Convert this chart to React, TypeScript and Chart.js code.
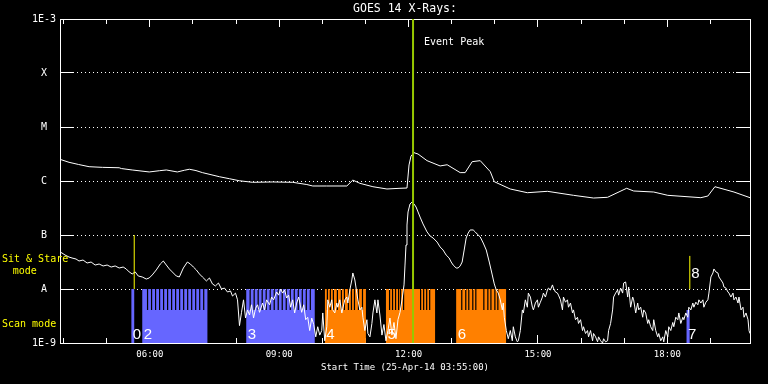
import React, { useEffect, useRef } from 'react';
import { Chart, registerables } from 'chart.js';

Chart.register(...registerables);

// ---- Data (times in decimal hours UT, 25-Apr-2014; flux in W/m^2) ----
const xStart = 3.9167; // 03:55
const xEnd = 19.9167; // 19:55

// GOES 14 long channel (upper curve)
const longTimes = [3.917, 4.126, 4.35, 4.591, 4.9, 5.289, 5.34, 5.591, 5.986, 6.22, 6.382, 6.638, 6.8, 6.917, 7.07, 7.219, 7.614, 7.85, 8.079, 8.382, 8.85, 9.312, 9.64, 9.777, 10.1, 10.568, 10.707, 10.870, 11.173, 11.498, 11.801, 11.963, 12.010, 12.056, 12.126, 12.219, 12.428, 12.731, 12.894, 13.196, 13.312, 13.475, 13.661, 13.894, 13.987, 14.358, 14.754, 15.219, 15.824, 16.289, 16.614, 17.056, 17.219, 17.684, 18.010, 18.777, 18.940, 19.103, 19.545, 19.917];
const longFlux = [2.52e-6, 2.22e-6, 2.02e-6, 1.84e-6, 1.79e-6, 1.76e-6, 1.70e-6, 1.60e-6, 1.47e-6, 1.55e-6, 1.60e-6, 1.47e-6, 1.58e-6, 1.65e-6, 1.56e-6, 1.43e-6, 1.20e-6, 1.10e-6, 1.01e-6, 9.46e-7, 9.6e-7, 9.46e-7, 8.6e-7, 8.08e-7, 8.08e-7, 8.08e-7, 1.04e-6, 9.06e-7, 7.84e-7, 7.11e-7, 7.33e-7, 7.41e-7, 1.98e-6, 2.90e-6, 3.34e-6, 3.16e-6, 2.38e-6, 1.90e-6, 2.00e-6, 1.43e-6, 1.43e-6, 2.28e-6, 2.38e-6, 1.49e-6, 9.7e-7, 7.11e-7, 6.07e-7, 6.44e-7, 5.43e-7, 4.84e-7, 4.99e-7, 7.33e-7, 6.53e-7, 6.25e-7, 5.43e-7, 4.91e-7, 5.27e-7, 7.84e-7, 6.25e-7, 4.91e-7];

// GOES 14 short channel (lower curve)
const shortTimes = [3.917, 3.963, 4.033, 4.126, 4.196, 4.289, 4.358, 4.451, 4.545, 4.638, 4.731, 4.824, 4.917, 5.010, 5.103, 5.196, 5.289, 5.382, 5.452, 5.521, 5.591, 5.661, 5.731, 5.824, 5.917, 5.986, 6.056, 6.149, 6.242, 6.312, 6.382, 6.452, 6.521, 6.614, 6.684, 6.777, 6.870, 6.940, 7.010, 7.079, 7.149, 7.219, 7.312, 7.382, 7.452, 7.521, 7.591, 7.661, 7.731, 7.800, 7.870, 7.917, 7.986, 8.033, 8.079, 8.126, 8.172, 8.219, 8.265, 8.312, 8.358, 8.405, 8.452, 8.498, 8.544, 8.614, 8.661, 8.707, 8.777, 8.824, 8.870, 8.940, 8.986, 9.033, 9.079, 9.126, 9.172, 9.219, 9.265, 9.312, 9.358, 9.405, 9.452, 9.521, 9.568, 9.614, 9.661, 9.707, 9.754, 9.800, 9.847, 9.893, 9.940, 9.986, 10.010, 10.056, 10.103, 10.126, 10.172, 10.219, 10.242, 10.289, 10.335, 10.358, 10.405, 10.452, 10.475, 10.521, 10.568, 10.591, 10.638, 10.684, 10.707, 10.754, 10.800, 10.824, 10.870, 10.917, 10.940, 10.986, 11.033, 11.056, 11.103, 11.149, 11.173, 11.219, 11.265, 11.289, 11.335, 11.382, 11.428, 11.475, 11.521, 11.568, 11.614, 11.661, 11.707, 11.754, 11.801, 11.847, 11.894, 11.917, 11.940, 11.963, 11.987, 12.033, 12.080, 12.126, 12.173, 12.219, 12.266, 12.335, 12.428, 12.498, 12.568, 12.661, 12.731, 12.800, 12.870, 12.940, 12.987, 13.033, 13.103, 13.149, 13.196, 13.242, 13.289, 13.335, 13.382, 13.428, 13.498, 13.545, 13.591, 13.661, 13.731, 13.801, 13.871, 13.940, 13.987, 14.033, 14.080, 14.126, 14.173, 14.196, 14.219, 14.266, 14.312, 14.359, 14.405, 14.428, 14.475, 14.522, 14.545, 14.591, 14.638, 14.661, 14.708, 14.754, 14.777, 14.824, 14.871, 14.894, 14.940, 14.987, 15.010, 15.056, 15.103, 15.126, 15.173, 15.219, 15.243, 15.289, 15.336, 15.359, 15.405, 15.452, 15.475, 15.522, 15.568, 15.591, 15.638, 15.684, 15.708, 15.754, 15.801, 15.824, 15.870, 15.917, 15.940, 15.987, 16.033, 16.056, 16.103, 16.149, 16.173, 16.219, 16.266, 16.289, 16.336, 16.382, 16.405, 16.452, 16.498, 16.522, 16.568, 16.614, 16.638, 16.684, 16.731, 16.754, 16.801, 16.847, 16.870, 16.917, 16.963, 16.987, 17.033, 17.080, 17.103, 17.149, 17.196, 17.219, 17.266, 17.312, 17.336, 17.382, 17.429, 17.452, 17.498, 17.545, 17.568, 17.614, 17.661, 17.684, 17.731, 17.777, 17.801, 17.847, 17.894, 17.917, 17.963, 18.010, 18.033, 18.080, 18.126, 18.150, 18.196, 18.243, 18.266, 18.312, 18.359, 18.382, 18.429, 18.475, 18.498, 18.545, 18.591, 18.615, 18.661, 18.708, 18.731, 18.777, 18.824, 18.847, 18.894, 18.940, 18.964, 19.010, 19.057, 19.080, 19.126, 19.173, 19.196, 19.243, 19.289, 19.312, 19.359, 19.405, 19.429, 19.475, 19.522, 19.545, 19.591, 19.638, 19.661, 19.708, 19.754, 19.778, 19.824, 19.871, 19.894, 19.917];
const shortFlux = [4.84e-8, 4.64e-8, 4.26e-8, 3.91e-8, 3.75e-8, 3.59e-8, 3.30e-8, 3.44e-8, 3.03e-8, 3.16e-8, 2.78e-8, 2.90e-8, 2.67e-8, 2.78e-8, 2.55e-8, 2.67e-8, 2.45e-8, 2.55e-8, 2.35e-8, 2.07e-8, 1.90e-8, 2.07e-8, 1.74e-8, 1.67e-8, 1.53e-8, 1.60e-8, 1.82e-8, 2.25e-8, 2.90e-8, 3.30e-8, 2.78e-8, 2.35e-8, 2.07e-8, 1.74e-8, 1.67e-8, 2.45e-8, 3.16e-8, 2.90e-8, 2.55e-8, 2.25e-8, 1.90e-8, 1.67e-8, 1.41e-8, 1.60e-8, 1.24e-8, 1.14e-8, 1.29e-8, 1.0e-8, 1.04e-8, 8.8e-9, 9.2e-9, 7.4e-9, 8.4e-9, 6.3e-9, 2.1e-9, 3.7e-9, 6.3e-9, 2.9e-9, 4.1e-9, 3.3e-9, 5.1e-9, 2.9e-9, 4.4e-9, 5.1e-9, 3.7e-9, 5.5e-9, 4.1e-9, 6.3e-9, 5.1e-9, 7.1e-9, 6.3e-9, 8.8e-9, 7.7e-9, 1.0e-8, 8.4e-9, 9.6e-9, 6.8e-9, 7.7e-9, 4.6e-9, 6.3e-9, 3.6e-9, 5.5e-9, 7.1e-9, 3.7e-9, 5.1e-9, 2.7e-9, 3.0e-9, 1.7e-9, 2.9e-9, 2.2e-9, 1.3e-9, 2.0e-9, 1.4e-9, 1.7e-9, 3.6e-9, 1.1e-9, 2.0e-9, 6.3e-9, 4.6e-9, 6.3e-9, 4.1e-9, 3.6e-9, 5.5e-9, 4.6e-9, 6.3e-9, 3.6e-9, 4.4e-9, 6.3e-9, 7.1e-9, 5.5e-9, 9.6e-9, 1.47e-8, 1.98e-8, 1.47e-8, 8.4e-9, 6.3e-9, 4.1e-9, 4.6e-9, 3.0e-9, 1.7e-9, 2.7e-9, 1.5e-9, 1.3e-9, 2.3e-9, 3.6e-9, 6.3e-9, 3.6e-9, 6.3e-9, 3.3e-9, 1.4e-9, 2.2e-9, 1.1e-9, 1.7e-9, 2.9e-9, 1.4e-9, 2.4e-9, 1.2e-9, 2.7e-9, 3.7e-9, 6.3e-9, 1.19e-8, 2.78e-8, 6.53e-8, 1.53e-7, 2.67e-7, 3.75e-7, 4.08e-7, 3.75e-7, 3.30e-7, 2.67e-7, 2.15e-7, 1.60e-7, 1.14e-7, 9.6e-8, 8.8e-8, 7.4e-8, 6.0e-8, 5.27e-8, 4.26e-8, 3.75e-8, 3.16e-8, 2.78e-8, 2.45e-8, 2.45e-8, 2.67e-8, 3.16e-8, 5.27e-8, 8.8e-8, 1.09e-7, 1.24e-7, 1.24e-7, 1.14e-7, 1.04e-7, 9.2e-8, 7.1e-8, 5.27e-8, 3.16e-8, 1.82e-8, 1.24e-8, 9.6e-9, 8.4e-9, 6.3e-9, 4.1e-9, 5.5e-9, 3.0e-9, 1.7e-9, 1.2e-9, 1.7e-9, 1.1e-9, 2.0e-9, 1.3e-9, 1.05e-9, 1.1e-9, 1.7e-9, 4.1e-9, 3.6e-9, 6.3e-9, 4.6e-9, 8.4e-9, 7.1e-9, 4.6e-9, 4.1e-9, 5.5e-9, 6.3e-9, 4.6e-9, 5.7e-9, 7.1e-9, 8.4e-9, 7.1e-9, 9.6e-9, 1.04e-8, 9.6e-9, 1.19e-8, 1.04e-8, 8.8e-9, 8.4e-9, 7.7e-9, 6.3e-9, 4.1e-9, 7.1e-9, 5.7e-9, 6.3e-9, 4.6e-9, 5.5e-9, 3.6e-9, 4.1e-9, 2.7e-9, 3.0e-9, 2.3e-9, 2.7e-9, 1.7e-9, 2.0e-9, 1.5e-9, 1.7e-9, 1.3e-9, 1.7e-9, 1.1e-9, 1.5e-9, 1.3e-9, 1.05e-9, 1.3e-9, 1.1e-9, 1.0e-9, 1.2e-9, 1.05e-9, 1.1e-9, 1.7e-9, 2.3e-9, 4.1e-9, 7.1e-9, 8.4e-9, 9.6e-9, 7.7e-9, 1.04e-8, 8.4e-9, 1.29e-8, 1.35e-8, 7.1e-9, 1.09e-8, 4.6e-9, 7.1e-9, 6.3e-9, 3.6e-9, 5.5e-9, 4.1e-9, 4.6e-9, 3.0e-9, 4.1e-9, 3.6e-9, 2.3e-9, 2.7e-9, 2.0e-9, 1.7e-9, 2.7e-9, 1.7e-9, 1.3e-9, 1.5e-9, 1.1e-9, 1.3e-9, 1.05e-9, 1.7e-9, 1.3e-9, 2.0e-9, 1.7e-9, 2.4e-9, 2.0e-9, 3.0e-9, 2.7e-9, 3.6e-9, 2.3e-9, 3.0e-9, 2.7e-9, 3.6e-9, 3.0e-9, 4.6e-9, 4.1e-9, 5.5e-9, 4.6e-9, 5.7e-9, 5.1e-9, 6.3e-9, 5.5e-9, 6.3e-9, 4.6e-9, 5.7e-9, 6.3e-9, 8.4e-9, 1.67e-8, 1.98e-8, 2.35e-8, 2.07e-8, 1.98e-8, 1.67e-8, 1.47e-8, 1.29e-8, 1.09e-8, 1.04e-8, 8.8e-9, 8.4e-9, 7.1e-9, 8.4e-9, 6.3e-9, 7.1e-9, 5.5e-9, 7.1e-9, 4.1e-9, 4.6e-9, 3.0e-9, 3.6e-9, 2.7e-9, 1.7e-9, 1.5e-9];

// Axis ticks and labels
const decadeValues = [1e-9, 1e-8, 1e-7, 1e-6, 1e-5, 1e-4, 1e-3];
const yTickLabels = ['1E-9', 'A', 'B', 'C', 'M', 'X', '1E-3'];
const hourTicks = [4, 5, 6, 7, 8, 9, 10, 11, 12, 13, 14, 15, 16, 17, 18, 19];
const majorHours = [6, 9, 12, 15, 18];
const majorLabels = ['06:00', '09:00', '12:00', '15:00', '18:00'];

// Scan-mode observation blocks
const scanLabels = ['0', '2', '3', '4', '5', '6', '7'];
const scanKind = ['blue', 'blue', 'blue', 'orange', 'orange', 'orange', 'blue'];
const scanStart = [5.568, 5.824, 8.235, 10.056, 11.475, 13.103, 18.445];
const scanEnd = [5.638, 7.335, 9.824, 11.010, 12.614, 14.265, 18.521];
const scanBase = [1e-8, 4.1e-9, 4.1e-9, 4.1e-9, 4.1e-9, 4.1e-9, 4.1e-9];
const scanTop = [1e-8, 1e-8, 1e-8, 1e-8, 1e-8, 1e-8, 4.1e-9];
const gaps0: number[] = [];
const gaps2 = [5.933, 6.026, 6.119, 6.212, 6.305, 6.398, 6.491, 6.584, 6.677, 6.770, 6.863, 6.956, 7.049, 7.142, 7.235];
const gaps3 = [8.312, 8.405, 8.498, 8.591, 8.684, 8.777, 8.870, 8.963, 9.056, 9.149, 9.242, 9.335, 9.428, 9.521, 9.614, 9.707];
const gaps4 = [10.103, 10.172, 10.242, 10.335, 10.428, 10.498, 10.591, 10.661, 10.731, 10.824, 10.917];
const gaps5 = [11.545, 11.614, 11.684, 11.754, 11.800, 11.870, 12.265, 12.335, 12.405, 12.475];
const gaps6 = [13.219, 13.312, 13.382, 13.475, 13.545, 13.731, 13.824, 13.895, 13.987, 14.056];
const gaps7: number[] = [];
const scanGaps = [gaps0, gaps2, gaps3, gaps4, gaps5, gaps6, gaps7];

// Sit & Stare observations
const sitStareTimes = [5.638, 18.521];
const sitStareLow = [1e-8, 1e-8];
const sitStareHigh = [1e-7, 4.1e-8];
const sitStareLabels = ['', '8'];

// Event peak
const eventPeakTime = 12.103;

// ---- Styles ----
const FONT = "'DejaVu Sans Mono', monospace";
const DIGIT_FONT = "'Liberation Sans', sans-serif";
const BLUE = 'rgb(102,102,255)';
const ORANGE = 'rgb(255,128,0)';
const GREEN = 'rgb(150,200,0)';
const YELLOW = '#ffff00';
const GAP_WIDTH = 0.028;
const FLOOR = 1e-9;

function buildScanData(kind: string) {
  const pts: { x: number; y: number }[] = [];
  for (let i = 0; i < scanStart.length; i++) {
    if (scanKind[i] !== kind) continue;
    pts.push({ x: scanStart[i], y: scanTop[i] });
    for (const g of scanGaps[i]) {
      pts.push({ x: g, y: scanBase[i] });
      pts.push({ x: g + GAP_WIDTH, y: scanTop[i] });
    }
    pts.push({ x: scanEnd[i], y: FLOOR });
  }
  return pts;
}

function buildSitStare() {
  const pts: { x: number; y: number | null }[] = [];
  sitStareTimes.forEach((t, i) => {
    if (i > 0) pts.push({ x: (sitStareTimes[i - 1] + t) / 2, y: null });
    pts.push({ x: t, y: sitStareLow[i] });
    pts.push({ x: t, y: sitStareHigh[i] });
  });
  return pts;
}

const zeroPadding = (s: any) => {
  s.paddingTop = 0;
  s.paddingBottom = 0;
  s.paddingLeft = 0;
  s.paddingRight = 0;
};

const textPlugin = {
  id: 'goesText',
  afterDatasetsDraw(chart: any) {
    const { ctx } = chart;
    const x = chart.scales.x;
    const y = chart.scales.y;
    ctx.save();
    ctx.fillStyle = '#ffffff';
    ctx.font = `15px ${DIGIT_FONT}`;
    ctx.textAlign = 'left';
    ctx.textBaseline = 'alphabetic';
    scanLabels.forEach((lab, i) => {
      ctx.fillText(lab, x.getPixelForValue(scanStart[i]) + 1.5, y.getPixelForValue(FLOOR) - 4);
    });
    sitStareLabels.forEach((lab, i) => {
      if (lab) ctx.fillText(lab, x.getPixelForValue(sitStareTimes[i]) + 1.5, y.getPixelForValue(sitStareLow[i]) - 11);
    });
    ctx.restore();
  },
  afterDraw(chart: any) {
    const { ctx } = chart;
    const x = chart.scales.x;
    const y = chart.scales.y;
    ctx.save();
    ctx.textAlign = 'left';
    ctx.textBaseline = 'middle';
    ctx.font = `10px ${FONT}`;
    ctx.fillStyle = '#ffffff';
    ctx.fillText('Event Peak', x.getPixelForValue(eventPeakTime) + 11, y.getPixelForValue(1e-3) + 23.5);
    ctx.fillStyle = YELLOW;
    ctx.fillText('Sit & Stare', 2, y.getPixelForValue(1e-7) + 24.5);
    ctx.fillText('mode', 12.7, y.getPixelForValue(1e-7) + 36.7);
    ctx.fillText('Scan mode', 2, y.getPixelForValue(1e-9) - 19);
    ctx.restore();
  },
};

export default function App() {
  const ref = useRef<HTMLCanvasElement>(null);

  useEffect(() => {
    document.body.style.margin = '0';
    document.body.style.background = '#000';
    const canvas = ref.current;
    if (!canvas) return;

    const hourAxis = (ticks: number[], pos: string, len: number, border: boolean, weight: number) => ({
      type: 'linear',
      position: pos,
      min: xStart,
      max: xEnd,
      weight,
      afterBuildTicks: (s: any) => {
        s.ticks = ticks.map((v) => ({ value: v }));
      },
      grid: { display: true, drawOnChartArea: false, drawTicks: true, tickLength: len, tickColor: '#ffffff', tickWidth: 1 },
      border: { display: border, color: '#ffffff', width: 1 },
      ticks: { display: false },
      afterFit: (s: any) => {
        s.height = 0;
        zeroPadding(s);
      },
    });

    const yLabel = (v: number) => {
      const i = decadeValues.findIndex((d) => Math.abs(Math.log10(d) - Math.log10(v)) < 1e-6);
      return i >= 0 ? yTickLabels[i] : '';
    };

    const chart = new Chart(canvas, {
      type: 'line',
      data: {
        datasets: [
          {
            label: 'Scan mode (A)',
            data: buildScanData('blue'),
            stepped: true,
            fill: 'start',
            backgroundColor: BLUE,
            borderColor: 'rgba(0,0,0,0)',
            borderWidth: 0,
            pointRadius: 0,
            order: 5,
          },
          {
            label: 'Scan mode (B)',
            data: buildScanData('orange'),
            stepped: true,
            fill: 'start',
            backgroundColor: ORANGE,
            borderColor: 'rgba(0,0,0,0)',
            borderWidth: 0,
            pointRadius: 0,
            order: 5,
          },
          {
            label: 'GOES 14 1.0-8.0 A',
            data: longTimes.map((t, i) => ({ x: t, y: longFlux[i] })),
            borderColor: '#ffffff',
            borderWidth: 1,
            pointRadius: 0,
            fill: false,
            order: 2,
          },
          {
            label: 'GOES 14 0.5-4.0 A',
            data: shortTimes.map((t, i) => ({ x: t, y: shortFlux[i] })),
            borderColor: '#ffffff',
            borderWidth: 1,
            pointRadius: 0,
            fill: false,
            order: 2,
          },
          {
            label: 'Sit & Stare',
            data: buildSitStare(),
            borderColor: YELLOW,
            borderWidth: 1,
            pointRadius: 0,
            spanGaps: false,
            fill: false,
            order: 1,
          },
          {
            label: 'Event Peak',
            data: [
              { x: eventPeakTime, y: decadeValues[0] },
              { x: eventPeakTime, y: decadeValues[decadeValues.length - 1] },
            ],
            borderColor: GREEN,
            borderWidth: 2,
            pointRadius: 0,
            fill: false,
            order: 0,
          },
        ] as any,
      },
      options: {
        responsive: false,
        animation: false,
        devicePixelRatio: 1,
        events: [],
        layout: { padding: { left: 0, right: 18, top: 0, bottom: 0 } },
        elements: { point: { radius: 0 }, line: { tension: 0 } },
        plugins: {
          legend: { display: false },
          tooltip: { enabled: false },
          title: {
            display: true,
            text: 'GOES 14 X-Rays:',
            color: '#ffffff',
            fullSize: false,
            font: { family: FONT, size: 11.5, weight: 'normal' },
            padding: { top: 2.1, bottom: 3.1 },
          },
        },
        scales: {
          x: {
            type: 'linear',
            position: 'bottom',
            min: xStart,
            max: xEnd,
            weight: 0,
            afterBuildTicks: (s: any) => {
              s.ticks = hourTicks.map((v) => ({ value: v }));
            },
            afterFit: (s: any) => {
              s.height = 41;
              zeroPadding(s);
            },
            grid: { display: true, drawOnChartArea: false, drawTicks: true, tickLength: -5, tickColor: '#ffffff', tickWidth: 1 },
            border: { display: true, color: '#ffffff', width: 1 },
            ticks: {
              autoSkip: false,
              maxRotation: 0,
              color: '#ffffff',
              font: { family: FONT, size: 9 },
              padding: 11.6,
              callback: (v: any) => {
                const i = majorHours.indexOf(Number(v));
                return i >= 0 ? majorLabels[i] : '';
              },
            },
            title: {
              display: true,
              text: 'Start Time (25-Apr-14 03:55:00)',
              color: '#ffffff',
              font: { family: FONT, size: 9 },
              padding: { top: 0, bottom: 11.1 },
            },
          },
          xMajor: hourAxis(majorHours, 'bottom', -8, false, -1),
          xTop: hourAxis(hourTicks, 'top', -5, true, 0),
          xTopMajor: hourAxis(majorHours, 'top', -8, false, -1),
          y: {
            type: 'logarithmic',
            position: 'left',
            min: decadeValues[0],
            max: decadeValues[decadeValues.length - 1],
            afterBuildTicks: (s: any) => {
              s.ticks = decadeValues.map((v) => ({ value: v }));
            },
            afterFit: (s: any) => {
              s.width = 60;
              zeroPadding(s);
            },
            grid: {
              display: true,
              drawOnChartArea: true,
              color: '#ffffff',
              lineWidth: 1,
              drawTicks: true,
              tickLength: -14,
              tickColor: '#ffffff',
              tickWidth: 1,
              tickBorderDash: [],
            },
            border: { display: true, color: '#ffffff', width: 1, dash: [1, 3] },
            ticks: {
              autoSkip: false,
              color: '#ffffff',
              font: { family: FONT, size: 10 },
              padding: 18,
              crossAlign: 'center',
              callback: (v: any) => yLabel(Number(v)),
            },
          },
          yRight: {
            type: 'logarithmic',
            position: 'right',
            min: decadeValues[0],
            max: decadeValues[decadeValues.length - 1],
            afterBuildTicks: (s: any) => {
              s.ticks = decadeValues.map((v) => ({ value: v }));
            },
            afterFit: (s: any) => {
              s.width = 0;
              zeroPadding(s);
            },
            grid: { display: true, drawOnChartArea: false, drawTicks: true, tickLength: -14, tickColor: '#ffffff', tickWidth: 1 },
            border: { display: true, color: '#ffffff', width: 1 },
            ticks: { display: false },
          },
        } as any,
      },
      plugins: [textPlugin],
    } as any);

    return () => chart.destroy();
  }, []);

  return (
    <div style={{ position: 'fixed', left: 0, top: 0, width: 768, height: 384, background: '#000' }}>
      <canvas ref={ref} width={768} height={384} style={{ display: 'block', width: 768, height: 384 }} />
    </div>
  );
}
